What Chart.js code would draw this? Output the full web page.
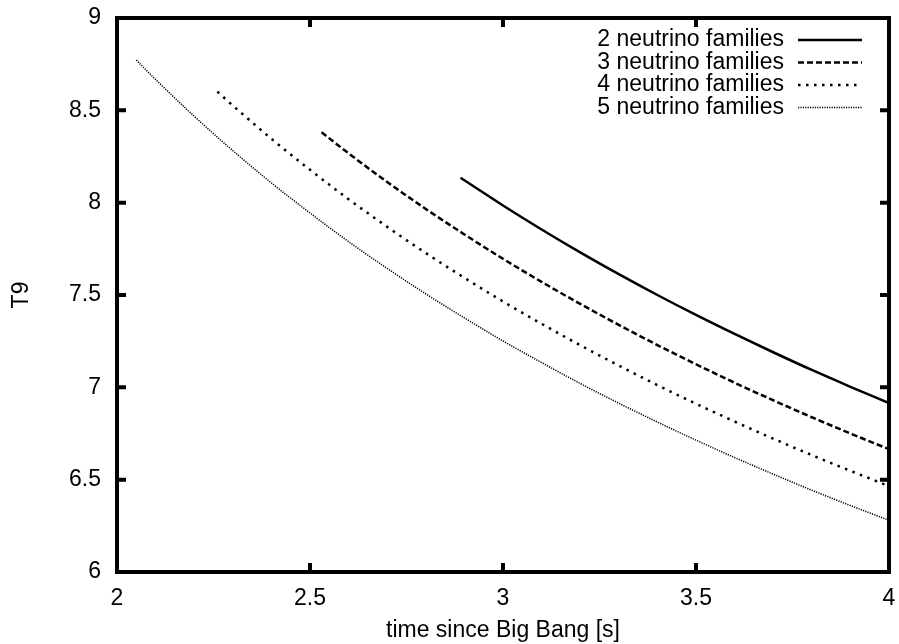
<!DOCTYPE html>
<html>
<head>
<meta charset="utf-8">
<script src="https://cdn.jsdelivr.net/npm/chart.js@4.4.0/dist/chart.umd.min.js"></script>
<style>
  html, body { margin: 0; padding: 0; background: #fff; }
</style>
</head>
<body>
<canvas id="lineChart" width="899" height="644"></canvas>
<script>
// values
const seriesLabels = [
  "2 neutrino families",
  "3 neutrino families",
  "4 neutrino families",
  "5 neutrino families",
];

const time2 = [2.89, 3.0, 3.1, 3.2, 3.3, 3.4, 3.5, 3.6, 3.7, 3.8, 3.9, 4.0];
const temp2 = [8.135, 7.985, 7.855, 7.731, 7.613, 7.5, 7.392, 7.289, 7.19, 7.094, 7.003, 6.915];

const time3 = [2.53, 2.6, 2.7, 2.8, 2.9, 3.0, 3.1, 3.2, 3.3, 3.4, 3.5, 3.6, 3.7, 3.8, 3.9, 4.0];
const temp3 = [8.381, 8.267, 8.112, 7.966, 7.828, 7.696, 7.571, 7.452, 7.338, 7.229, 7.125, 7.025, 6.93, 6.838, 6.75, 6.665];

const time4 = [2.26, 2.3, 2.4, 2.5, 2.6, 2.7, 2.8, 2.9, 3.0, 3.1, 3.2, 3.3, 3.4, 3.5, 3.6, 3.7, 3.8, 3.9, 4.0];
const temp4 = [8.601, 8.526, 8.346, 8.178, 8.019, 7.869, 7.727, 7.593, 7.465, 7.344, 7.228, 7.118, 7.012, 6.911, 6.815, 6.722, 6.633, 6.548, 6.465];

const time5 = [2.05, 2.1, 2.2, 2.3, 2.4, 2.5, 2.6, 2.7, 2.8, 2.9, 3.0, 3.1, 3.2, 3.3, 3.4, 3.5, 3.6, 3.7, 3.8, 3.9, 4.0];
const temp5 = [8.772, 8.667, 8.468, 8.282, 8.107, 7.944, 7.789, 7.644, 7.506, 7.376, 7.251, 7.134, 7.021, 6.914, 6.812, 6.714, 6.62, 6.53, 6.443, 6.36, 6.28];

const xTicks = [2, 2.5, 3, 3.5, 4];
const yTicks = [6, 6.5, 7, 7.5, 8, 8.5, 9];

const FONT = "'Liberation Sans', Arial, sans-serif";
const FONT_SIZE = 23;

function toPoints(xs, ys) {
  return xs.map((x, i) => ({ x: x, y: ys[i] }));
}

const lineStyles = [
  { width: 2.5, dash: [] },
  { width: 2.5, dash: [6, 3] },
  { width: 2.5, dash: [2.5, 5.5] },
  { width: 1.5, dash: [1.2, 1.2] },
];

const seriesData = [
  toPoints(time2, temp2),
  toPoints(time3, temp3),
  toPoints(time4, temp4),
  toPoints(time5, temp5),
];

// frame with inward ticks on all four sides, gnuplot style
const framePlugin = {
  id: "frame",
  afterDraw(chart) {
    const ctx = chart.ctx;
    const a = chart.chartArea;
    const xs = chart.scales.x;
    const ys = chart.scales.y;
    const len = 9;
    ctx.save();
    ctx.strokeStyle = "#000";
    ctx.lineWidth = 4;
    ctx.lineCap = "butt";
    ctx.beginPath();
    xTicks.forEach((v) => {
      const px = xs.getPixelForValue(v);
      ctx.moveTo(px, a.bottom);
      ctx.lineTo(px, a.bottom - len);
      ctx.moveTo(px, a.top);
      ctx.lineTo(px, a.top + len);
    });
    yTicks.forEach((v) => {
      const py = ys.getPixelForValue(v);
      ctx.moveTo(a.left, py);
      ctx.lineTo(a.left + len, py);
      ctx.moveTo(a.right, py);
      ctx.lineTo(a.right - len, py);
    });
    ctx.stroke();
    ctx.strokeRect(a.left, a.top, a.right - a.left, a.bottom - a.top);
    ctx.restore();
  },
};

// key: label text right aligned, then a sample of the line
const keyPlugin = {
  id: "key",
  afterDraw(chart) {
    const ctx = chart.ctx;
    ctx.save();
    ctx.font = FONT_SIZE + "px " + FONT;
    ctx.textAlign = "right";
    ctx.textBaseline = "middle";
    ctx.fillStyle = "#000";
    chart.data.datasets.forEach((ds, i) => {
      const y = 40 + i * 22.5;
      ctx.fillText(ds.label, 784, y);
      ctx.strokeStyle = "#000";
      ctx.lineWidth = ds.borderWidth;
      ctx.setLineDash(ds.borderDash);
      ctx.beginPath();
      ctx.moveTo(798, y);
      ctx.lineTo(862, y);
      ctx.stroke();
    });
    ctx.restore();
  },
};

new Chart(document.getElementById("lineChart").getContext("2d"), {
  type: "line",
  data: {
    datasets: seriesLabels.map((label, i) => ({
      label: label,
      data: seriesData[i],
      borderColor: "#000",
      backgroundColor: "#000",
      borderWidth: lineStyles[i].width,
      borderDash: lineStyles[i].dash,
      pointRadius: 0,
      fill: false,
      cubicInterpolationMode: "monotone",
    })),
  },
  options: {
    responsive: false,
    animation: false,
    layout: { padding: { top: 18, right: 10, left: 0, bottom: 0 } },
    plugins: {
      legend: { display: false },
      tooltip: { enabled: false },
    },
    scales: {
      x: {
        type: "linear",
        min: 2,
        max: 4,
        afterBuildTicks: (scale) => {
          scale.ticks = xTicks.map((v) => ({ value: v }));
        },
        afterFit: (scale) => {
          scale.height = 72;
          scale.paddingLeft = 0;
          scale.paddingRight = 0;
        },
        grid: { display: false, drawTicks: false },
        border: { display: false },
        ticks: {
          color: "#000",
          padding: 13,
          maxRotation: 0,
          callback: (v) => String(v),
          font: { family: FONT, size: FONT_SIZE },
        },
        title: {
          display: true,
          text: "time since Big Bang [s]",
          color: "#000",
          padding: { top: 0, bottom: 0 },
          font: { family: FONT, size: FONT_SIZE },
        },
      },
      y: {
        type: "linear",
        min: 6,
        max: 9,
        afterBuildTicks: (scale) => {
          scale.ticks = yTicks.map((v) => ({ value: v }));
        },
        afterFit: (scale) => {
          scale.width = 117;
          scale.paddingTop = 0;
          scale.paddingBottom = 0;
        },
        grid: { display: false, drawTicks: false },
        border: { display: false },
        ticks: {
          color: "#000",
          padding: 16,
          callback: (v) => String(v),
          font: { family: FONT, size: FONT_SIZE },
        },
        title: {
          display: true,
          text: "T9",
          color: "#000",
          padding: { top: 8, bottom: 0 },
          font: { family: FONT, size: FONT_SIZE },
        },
      },
    },
  },
  plugins: [framePlugin, keyPlugin],
});
</script>
</body>
</html>
